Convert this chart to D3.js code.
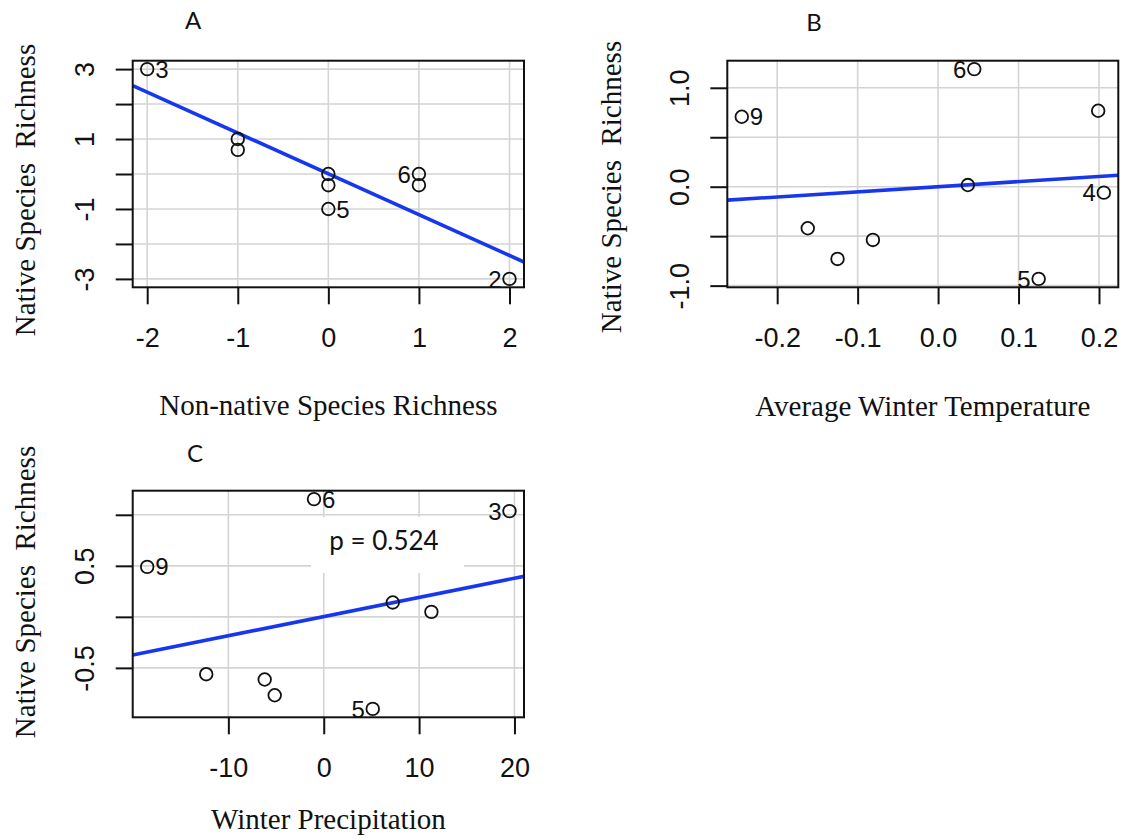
<!DOCTYPE html>
<html>
<head>
<meta charset="utf-8">
<script src="https://d3js.org/d3.v7.min.js"></script>
<style>
  body { margin: 0; background: #fff; }
  text { white-space: pre; }
</style>
</head>
<body>
<script>
// A: residual native richness vs non-native richness
var aX = [-2, -1, -1, 0, 0, 0, 1, 1, 2]
var aY = [3, 1, 0.69, 0, -0.32, -1, 0, -0.32, -3]
var aLab = ["3", "", "", "", "", "5", "6", "", "2"]
var aSide = ["r", "", "", "", "", "r", "l", "", "l"]
var aXTicks = [-2, -1, 0, 1, 2]
var aYTicks = [-3, -2, -1, 0, 1, 2, 3]
var aYLabels = [-3, -1, 1, 3]

// B: vs average winter temperature
var bX = [-0.244, 0.045, 0.199, 0.037, 0.206, -0.162, -0.125, -0.081, 0.125]
var bY = [0.707, 1.189, 0.768, 0.017, -0.06, -0.42, -0.73, -0.538, -0.932]
var bLab = ["9", "6", "", "", "4", "", "", "", "5"]
var bSide = ["r", "l", "", "", "l", "", "", "", "l"]
var bXTicks = [-0.2, -0.1, 0, 0.1, 0.2]
var bYTicks = [-1, -0.5, 0, 0.5, 1]
var bYLabels = [-1, 0, 1]

// C: vs winter precipitation
var cX = [-18.51, -1.02, 19.48, 7.24, 11.29, -12.32, -6.19, -5.14, 5.14]
var cY = [0.49, 1.154, 1.036, 0.141, 0.049, -0.562, -0.614, -0.768, -0.902]
var cLab = ["9", "6", "3", "", "", "", "", "", "5"]
var cSide = ["r", "r", "l", "", "", "", "", "", "l"]
var cXTicks = [-10, 0, 10, 20]
var cYTicks = [-0.5, 0, 0.5, 1]
var cYLabels = [-0.5, 0.5]
var cNote = "p = 0.524"

var yTitle = "Native Species  Richness"
var SANS = "'Liberation Sans', Arial, Helvetica, sans-serif"
var SERIF = "'Liberation Serif', 'Times New Roman', serif"
var CAL = "Lato, 'Open Sans', sans-serif"

var svg = d3.select("body").append("svg").attr("width", 1125).attr("height", 839)

function pad(ext) {
   var d = (ext[1] - ext[0]) * 0.04
   return [ext[0] - d, ext[1] + d]
}

function panel(p) {
   var x = d3.scaleLinear().domain(pad(d3.extent(p.xs))).range([p.left, p.right])
   var y = d3.scaleLinear().domain(pad(d3.extent(p.ys))).range([p.bottom, p.top])
   var g = svg.append("g")
   var id = "clip" + p.name

   g.append("clipPath").attr("id", id).append("rect")
      .attr("x", p.left).attr("y", p.top).attr("width", p.right - p.left).attr("height", p.bottom - p.top)

   // grid
   g.selectAll("line.gx").data(p.xTicks).enter().append("line")
      .attr("x1", d => x(d)).attr("x2", d => x(d)).attr("y1", p.top).attr("y2", p.bottom)
      .attr("stroke", "#d4d4d4").attr("stroke-width", 1.6)
   g.selectAll("line.gy").data(p.yTicks).enter().append("line")
      .attr("y1", d => y(d)).attr("y2", d => y(d)).attr("x1", p.left).attr("x2", p.right)
      .attr("stroke", "#d4d4d4").attr("stroke-width", 1.6)

   if (p.note) {
      g.append("rect").attr("x", 311).attr("y", 517).attr("width", 153).attr("height", 56).attr("fill", "#fff")
      g.append("text").attr("x", 384).attr("y", 550).attr("text-anchor", "middle")
         .attr("font-family", CAL).attr("font-size", 26).attr("fill", "#111").text(p.note)
   }

   // least squares line
   var mx = d3.mean(p.xs), my = d3.mean(p.ys)
   var sxy = d3.sum(p.xs, (v, i) => (v - mx) * (p.ys[i] - my))
   var sxx = d3.sum(p.xs, v => (v - mx) * (v - mx))
   var b = sxy / sxx, a = my - b * mx
   var dom = x.domain()
   g.append("line").attr("clip-path", "url(#" + id + ")")
      .attr("x1", x(dom[0])).attr("y1", y(a + b * dom[0]))
      .attr("x2", x(dom[1])).attr("y2", y(a + b * dom[1]))
      .attr("stroke", "#1637ee").attr("stroke-width", 3.6)

   // points and labels
   var pts = p.xs.map((v, i) => ({ x: v, y: p.ys[i], lab: p.labs[i], side: p.sides[i] }))
   g.selectAll("circle").data(pts).enter().append("circle")
      .attr("cx", d => x(d.x)).attr("cy", d => y(d.y)).attr("r", 6.3)
      .attr("fill", "none").attr("stroke", "#111").attr("stroke-width", 1.8)
   g.selectAll("text.lab").data(pts.filter(d => d.lab)).enter().append("text")
      .attr("x", d => x(d.x) + (d.side == "r" ? 8 : -8))
      .attr("y", d => y(d.y)).attr("dy", "0.36em")
      .attr("text-anchor", d => d.side == "r" ? "start" : "end")
      .attr("font-family", SANS).attr("font-size", 24).attr("fill", "#111")
      .text(d => d.lab)

   // box
   g.append("rect").attr("x", p.left).attr("y", p.top)
      .attr("width", p.right - p.left).attr("height", p.bottom - p.top)
      .attr("fill", "none").attr("stroke", "#111").attr("stroke-width", 2)

   // axes
   var ax = g.append("g").attr("transform", "translate(0," + p.bottom + ")")
      .call(d3.axisBottom(x).tickValues(p.xTicks).tickSize(17).tickFormat(p.fmt))
   var ay = g.append("g").attr("transform", "translate(" + p.left + ",0)")
      .call(d3.axisLeft(y).tickValues(p.yTicks).tickSize(17)
         .tickFormat(d => p.yLabels.indexOf(d) >= 0 ? p.fmt(d) : ""))
   ;[ax, ay].forEach(s => {
      s.select(".domain").remove()
      s.attr("font-family", SANS).attr("font-size", 27)
      s.selectAll(".tick line").attr("stroke", "#111").attr("stroke-width", 2)
      s.selectAll(".tick text").attr("fill", "#111")
   })
   ax.selectAll(".tick text").attr("y", 50).attr("dy", "0.36em")
   ay.selectAll(".tick text").attr("x", null).attr("dy", "0.36em")
      .attr("text-anchor", "middle").attr("transform", "translate(-48,0) rotate(-90)")

   // titles
   g.append("text").attr("x", p.tag[1]).attr("y", p.tag[2]).attr("text-anchor", "middle")
      .attr("dy", "0.36em").attr("font-family", CAL).attr("font-size", 24).attr("fill", "#111").text(p.tag[0])
   g.append("text").attr("x", (p.left + p.right) / 2).attr("y", p.xtY).attr("text-anchor", "middle")
      .attr("font-family", SERIF).attr("font-size", 29).attr("fill", "#111").text(p.xTitle)
   g.append("text").attr("transform", "translate(" + p.ytX + "," + p.ytY + ") rotate(-90)")
      .attr("text-anchor", "middle").attr("dy", "0.36em")
      .attr("font-family", SERIF).attr("font-size", 29).attr("fill", "#111").text(yTitle)
}

var int = d => String(d)
var one = d => d.toFixed(1)

panel({ name: "A", xs: aX, ys: aY, labs: aLab, sides: aSide, xTicks: aXTicks, yTicks: aYTicks, yLabels: aYLabels,
   fmt: int, left: 132.7, right: 524, top: 60.7, bottom: 287.3, tag: ["A", 193, 20],
   xTitle: "Non-native Species Richness", xtY: 415, ytX: 25, ytY: 190 })
panel({ name: "B", xs: bX, ys: bY, labs: bLab, sides: bSide, xTicks: bXTicks, yTicks: bYTicks, yLabels: bYLabels,
   fmt: one, left: 727.3, right: 1118.3, top: 60.7, bottom: 287.3, tag: ["B", 814, 22],
   xTitle: "Average Winter Temperature", xtY: 416, ytX: 611, ytY: 187 })
panel({ name: "C", xs: cX, ys: cY, labs: cLab, sides: cSide, xTicks: cXTicks, yTicks: cYTicks, yLabels: cYLabels,
   fmt: int, left: 132.7, right: 524, top: 490.7, bottom: 717.3, tag: ["C", 195, 453],
   xTitle: "Winter Precipitation", xtY: 829, ytX: 25, ytY: 592, note: cNote })
</script>
</body>
</html>
